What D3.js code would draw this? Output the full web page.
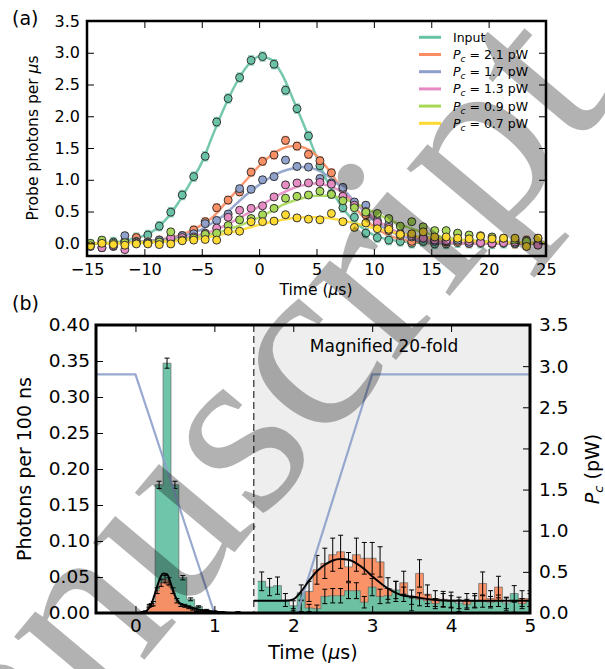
<!DOCTYPE html>
<html>
<head>
<meta charset="utf-8">
<script src="https://cdn.jsdelivr.net/npm/d3@7"></script>
<style>
  body { margin: 0; background: #fff; }
  svg { font-family: "DejaVu Sans", sans-serif; }
</style>
</head>
<body>
<div id="chart"></div>
<script>
// ---------- panel (a) data ----------
const seriesNames = ["Input", "2.1", "1.7", "1.3", "0.9", "0.7"];
const seriesColors = ["#66c2a5", "#fc8d62", "#8da0cb", "#e78ac3", "#a6d854", "#ffd92f"];

const tA = [-14.7,-13.7,-12.7,-11.7,-10.7,-9.7,-8.7,-7.7,-6.7,-5.7,-4.7,-3.7,-2.7,-1.7,-0.7,0.3,1.3,2.3,3.3,4.3,
            5.3,6.3,7.3,8.3,9.3,10.3,11.3,12.3,13.3,14.3,15.3,16.3,17.3,18.3,19.3,20.3,21.3,22.3,23.3,24.3];

const ptsInput = [-0.02,0.03,0.02,0.04,0.09,0.13,0.27,0.49,0.76,1.05,1.37,1.91,2.28,2.61,2.88,2.94,2.82,2.41,2.12,1.69,
                  1.22,0.78,0.56,0.41,0.16,0.09,0.05,0.03,0.00,0.03,-0.01,-0.01,0.01,0.00,0.00,-0.01,0.00,0.00,-0.02,0.00];
const pts21 = [-0.02,0.00,-0.03,0.02,0.09,0.02,0.05,0.08,0.12,0.21,0.34,0.56,0.68,0.81,1.12,1.29,1.39,1.62,1.53,1.40,
               1.30,1.11,0.86,0.60,0.45,0.30,0.20,0.12,0.03,0.10,0.05,0.02,0.03,0.00,0.02,0.00,0.02,-0.01,0.05,0.00];
const pts17 = [-0.05,-0.07,-0.05,0.12,0.03,0.02,0.05,0.06,0.12,0.15,0.31,0.36,0.46,0.86,0.85,1.00,1.05,1.31,1.21,1.20,
               1.02,0.95,0.88,0.65,0.60,0.36,0.30,0.15,0.10,0.08,0.03,0.04,0.05,0.00,0.02,0.00,0.01,0.00,0.02,-0.02];
const pts13 = [-0.03,-0.07,-0.04,-0.10,0.02,0.00,0.02,0.09,0.09,0.10,0.16,0.24,0.41,0.52,0.55,0.59,0.73,0.92,0.95,0.95,
               0.96,0.93,0.74,0.60,0.50,0.33,0.25,0.15,0.12,0.08,0.05,0.04,0.15,0.03,0.01,0.00,0.01,0.02,-0.01,-0.03];
const pts09 = [0.00,0.05,0.00,0.01,0.00,0.00,0.02,0.18,0.05,0.08,0.14,0.16,0.28,0.37,0.39,0.45,0.55,0.71,0.74,0.76,
               0.82,0.77,0.67,0.56,0.49,0.47,0.39,0.27,0.34,0.26,0.20,0.20,0.16,0.13,0.12,0.10,0.08,0.05,0.03,0.08];
const pts07 = [-0.04,0.00,-0.02,-0.03,-0.01,-0.01,-0.02,-0.01,0.04,0.05,0.06,0.05,0.19,0.19,0.34,0.34,0.35,0.45,0.40,0.38,
               0.37,0.47,0.34,0.25,0.32,0.23,0.22,0.14,0.15,0.18,0.10,0.10,0.08,0.07,0.11,0.07,0.08,0.08,-0.05,0.08];
const errA = [0.07, 0.06, 0.05, 0.04, 0.04, 0.03];

const fitT = [-15,-14,-13,-12,-11,-10,-9,-8,-7,-6,-5,-4,-3,-2,-1,0,1,2,3,4,5,6,7,8,9,10,
              11,12,13,14,15,16,17,18,19,20,21,22,23,24,25];
const fitInput = [0,0,0.01,0.03,0.07,0.12, 0.22,0.40,0.65,0.95,1.27,1.72,2.15,2.52,2.80,
                  2.94,2.90,2.66,2.25,1.82,1.36,0.95,0.63,0.40,0.24,
                  0.13,0.07,0.04,0.02,0.01,0,0,0,0,0,0,0,0,0,0,0];
const fit21 = [0,0,0,0.01,0.02,0.03, 0.05,0.08,0.12,0.19,0.29,0.42,0.62,0.82,1.02,
               1.22,1.38,1.49,1.53,1.50,1.38,1.17,0.91,0.65,0.43,
               0.26,0.15,0.08,0.04,0.02,0.01,0,0,0,0,0,0,0,0,0,0];
const fit17 = [0,0,0,0.01,0.02,0.03, 0.05,0.07,0.10,0.15,0.22,0.33,0.45,0.62,0.78,
               0.92,1.04,1.13,1.18,1.20,1.16,1.06,0.91,0.72,0.53,
               0.36,0.23,0.14,0.08,0.04,0.02,0.01,0,0,0,0,0,0,0,0,0];
const fit13 = [0,0,0,0,0.01,0.02, 0.03,0.05,0.07,0.10,0.14,0.20,0.28,0.37,0.47,
               0.58,0.69,0.79,0.87,0.92,0.94,0.91,0.83,0.70,0.55,
               0.40,0.28,0.18,0.11,0.07,0.04,0.02,0.01,0,0,0,0,0,0,0,0];
const fit09 = [0,0,0,0.01,0.01,0.02, 0.03,0.04,0.06,0.08,0.11,0.15,0.20,0.26,0.33,
               0.41,0.50,0.60,0.67,0.72,0.75,0.75,0.72,0.66,0.58,
               0.49,0.40,0.32,0.25,0.19,0.14,0.10,0.07,0.05,0.04,0.03,0.02,0.02,0.01,0.01,0.01];
const fit07 = [0,0,0,0,0.01,0.01, 0.02,0.03,0.04,0.06,0.08,0.11,0.15,0.19,0.24,
               0.29,0.33,0.37,0.40,0.41,0.41,0.40,0.37,0.33,0.29,
               0.24,0.20,0.16,0.13,0.10,0.08,0.06,0.05,0.04,0.03,0.02,0.02,0.01,0.01,0.01,0.01];

const xTicksA = [-15,-10,-5,0,5,10,15,20,25];
const yTicksA = [0,0.5,1,1.5,2,2.5,3,3.5];

// ---------- panel (b) data ----------
const binL = [0.0,0.1,0.2,0.3,0.4,0.5,0.6,0.7,0.8,0.9,1.0,1.1,1.2,1.3,1.4];
const greenL = [0.000,0.001,0.011,0.178,0.347,0.178,0.049,0.019,0.009,0.004,0.002,0.001,0.000,0.001,0.000];
const greenLErr = [0,0.001,0.002,0.005,0.007,0.005,0.003,0.002,0.001,0.001,0.001,0.001,0,0.001,0];

const binOL = [0.125,0.175,0.225,0.275,0.325,0.375,0.425,0.475,0.525,0.575,0.625,0.675,0.725,0.775,0.825,0.875];
const orangeL = [0.002,0.010,0.013,0.031,0.042,0.047,0.044,0.031,0.017,0.011,0.010,0.008,0.005,0.003,0.002,0.001];
const orangeLErr = [0.001,0.002,0.003,0.004,0.005,0.005,0.005,0.004,0.003,0.002,0.002,0.002,0.001,0.001,0.001,0.001];

const binR = [1.6,1.7,1.8,1.9,2.0,2.1,2.2,2.3,2.4,2.5,2.6,2.7,2.8,2.9,3.0,3.1,3.2,3.3,3.4,3.5,
              3.6,3.7,3.8,3.9,4.0,4.1,4.2,4.3,4.4,4.5,4.6,4.7,4.8,4.9,5.0];
const greenR = [0.044,0.036,0.038,0.018,0.010,0.028,0.007,0.006,0.023,0.024,
                0.024,0.031,0.031,0.015,0.036,0.023,0.024,0.032,0.026,0.022,
                0.019,0.017,0.013,0.018,0.016,0.014,0.012,0.016,0.016,0.015,
                0.017,0.014,0.027,0.013,0.018];
const greenRErr = [0.013,0.012,0.012,0.009,0.007,0.011,0.005,0.005,0.010,0.010,
                   0.010,0.011,0.011,0.008,0.012,0.010,0.010,0.012,0.010,0.010,
                   0.009,0.008,0.007,0.009,0.008,0.008,0.007,0.008,0.008,0.008,
                   0.008,0.008,0.011,0.007,0.009];
const orangeR = [0,0,0,0,0.002,0.010,0.030,0.060,0.069,0.081,
                 0.085,0.064,0.081,0.076,0.076,0.071,0.034,0.030,0.042,0.012,
                 0.055,0.026,0.020,0.019,0.018,0.010,0.017,0.017,0.041,0.020,
                 0.036,0.012,0.008,0.020,0.020];
const orangeRErr = [0,0,0,0,0.004,0.008,0.014,0.020,0.021,0.023,
                    0.023,0.020,0.023,0.022,0.022,0.021,0.015,0.014,0.016,0.009,
                    0.019,0.013,0.011,0.011,0.011,0.008,0.010,0.010,0.016,0.011,
                    0.015,0.009,0.007,0.011,0.011];

const fitLT = [0.0,0.1,0.15,0.2,0.25,0.3,0.35,0.4,0.45,0.5,0.55,0.6,0.7,0.8,0.9,1.0,1.1,1.2];
const fitL = [0.000,0.001,0.004,0.012,0.028,0.045,0.055,0.054,0.040,0.024,0.015,0.011,0.008,0.005,0.003,0.002,0.001,0.000];
const fitRT = [1.5,1.9,2.0,2.1,2.2,2.3,2.4,2.5,2.6,2.7,2.8,2.9,3.0,3.1,3.2,3.3,3.4,3.5,3.6,3.8,4.0,4.5,5.0];
const fitR = [0.017,0.017,0.019,0.030,0.045,0.058,0.067,0.073,0.075,0.074,0.069,0.061,0.051,0.042,0.034,0.028,0.024,0.023,0.021,0.018,0.017,0.017,0.017];

const pcT = [-0.5, 0.0, 1.0, 2.05, 3.0, 5.0];
const pcV = [2.9, 2.9, 0.0, 0.0, 2.9, 2.9];

const xTicksB = [0,1,2,3,4,5];
const yTicksB = [0,0.05,0.1,0.15,0.2,0.25,0.3,0.35,0.4];
const yTicksBR = [0,0.5,1,1.5,2,2.5,3,3.5];

// ---------- svg ----------
const svg = d3.select("#chart").append("svg")
  .attr("width", 605).attr("height", 669);

function inwardAxes(g, x, y, xt, yt, yRight, fmtX, fmtY, fmtR, fs, padX, padY) {
  const [x0, x1] = x.range(), [y0, y1] = y.range();
  g.append("g").attr("transform", `translate(0,${y0})`)
    .call(d3.axisBottom(x).tickValues(xt).tickSize(-7).tickPadding(padX).tickFormat(fmtX));
  g.append("g").attr("transform", `translate(0,${y1})`)
    .call(d3.axisTop(x).tickValues(xt).tickSize(-7).tickFormat(""));
  g.append("g").attr("transform", `translate(${x0},0)`)
    .call(d3.axisLeft(y).tickValues(yt).tickSize(-7).tickPadding(padY).tickFormat(fmtY));
  const r = yRight || y;
  g.append("g").attr("transform", `translate(${x1},0)`)
    .call(d3.axisRight(r).tickValues(yRight ? yTicksBR : yt).tickSize(-7).tickPadding(9)
      .tickFormat(fmtR || ""));
  g.selectAll(".domain").remove();
  g.selectAll(".tick line").attr("stroke", "#000").attr("stroke-width", 1);
  g.selectAll(".tick text").attr("font-size", fs).attr("fill", "#000")
    .attr("font-family", "DejaVu Sans, sans-serif");
}

// ===== panel (a) =====
const xa = d3.scaleLinear().domain([-15, 25]).range([87, 546]);
const ya = d3.scaleLinear().domain([-0.2, 3.5]).range([256, 21]);
const ga = svg.append("g");

ga.append("clipPath").attr("id", "clipA").append("rect")
  .attr("x", 87).attr("y", 21).attr("width", 459).attr("height", 235);

const ptsList = [ptsInput, pts21, pts17, pts13, pts09, pts07];
const fitList = [fitInput, fit21, fit17, fit13, fit09, fit07];

const lineA = d3.line().x(d => xa(d[0])).y(d => ya(d[1])).curve(d3.curveMonotoneX);
const plotA = ga.append("g").attr("clip-path", "url(#clipA)");

fitList.forEach((f, k) => {
  plotA.append("path")
    .datum(fitT.map((t, i) => [t, f[i]]))
    .attr("d", lineA).attr("fill", "none")
    .attr("stroke", seriesColors[k]).attr("stroke-width", 2.5).attr("stroke-opacity", 0.9);
});

ptsList.forEach((p, k) => {
  const g = plotA.append("g");
  const data = tA.map((t, i) => [t, p[i]]);
  const e = errA[k];
  g.selectAll("line.eb").data(data).enter().append("line")
    .attr("x1", d => xa(d[0])).attr("x2", d => xa(d[0]))
    .attr("y1", d => ya(d[1] - e)).attr("y2", d => ya(d[1] + e))
    .attr("stroke", seriesColors[k]).attr("stroke-width", 2).attr("stroke-opacity", 0.8);
  [-1, 1].forEach(s => {
    g.selectAll(null).data(data).enter().append("line")
      .attr("x1", d => xa(d[0]) - 3).attr("x2", d => xa(d[0]) + 3)
      .attr("y1", d => ya(d[1] + s * e)).attr("y2", d => ya(d[1] + s * e))
      .attr("stroke", seriesColors[k]).attr("stroke-width", 1.5).attr("stroke-opacity", 0.8);
  });
  g.selectAll("circle").data(data).enter().append("circle")
    .attr("cx", d => xa(d[0])).attr("cy", d => ya(d[1])).attr("r", 4)
    .attr("fill", seriesColors[k]).attr("fill-opacity", 0.95)
    .attr("stroke", "#333").attr("stroke-width", 1);
});

inwardAxes(ga, xa, ya, xTicksA, yTicksA, null, d3.format("d"), d3.format(".1f"), null, 16, 8, 7);

ga.append("rect").attr("x", 87).attr("y", 21).attr("width", 459).attr("height", 235)
  .attr("fill", "none").attr("stroke", "#000").attr("stroke-width", 2.5);

// legend
const leg = ga.append("g");
seriesNames.forEach((n, k) => {
  const yy = 37.3 + k * 17.2;
  leg.append("line").attr("x1", 419).attr("x2", 441).attr("y1", yy).attr("y2", yy)
    .attr("stroke", seriesColors[k]).attr("stroke-width", 3);
  const t = leg.append("text").attr("x", 453).attr("y", yy).attr("dy", "0.36em")
    .attr("font-size", 12.5).attr("fill", "#000");
  if (k === 0) {
    t.text(n);
  } else {
    t.append("tspan").attr("font-style", "italic").text("P");
    t.append("tspan").attr("font-style", "italic").attr("font-size", 9).attr("dy", 3).text("c");
    t.append("tspan").attr("dy", -3).text(" = " + n + " pW");
  }
});

// labels (a)
svg.append("text").attr("x", 12).attr("y", 25).attr("font-size", 19).text("(a)");
const xlA = svg.append("text").attr("x", 316).attr("y", 295).attr("text-anchor", "middle").attr("font-size", 15.5);
xlA.append("tspan").text("Time (");
xlA.append("tspan").attr("font-style", "italic").text("μ");
xlA.append("tspan").text("s)");
const ylA = svg.append("text").attr("transform", "translate(38,138) rotate(-90)")
  .attr("text-anchor", "middle").attr("font-size", 15.5);
ylA.append("tspan").text("Probe photons per ");
ylA.append("tspan").attr("font-style", "italic").text("μ");
ylA.append("tspan").text("s");

// ===== panel (b) =====
const xb = d3.scaleLinear().domain([-0.5, 5]).range([96, 530]);
const yb = d3.scaleLinear().domain([0, 0.4]).range([613, 325]);
const ybR = d3.scaleLinear().domain([0, 3.5]).range([613, 325]);
const gb = svg.append("g");

gb.append("clipPath").attr("id", "clipB").append("rect")
  .attr("x", 96).attr("y", 325).attr("width", 434).attr("height", 288);

const plotB = gb.append("g").attr("clip-path", "url(#clipB)");

plotB.append("rect").attr("x", xb(1.5)).attr("y", 325)
  .attr("width", xb(5) - xb(1.5)).attr("height", 288).attr("fill", "#edeeed");

function stepHist(centers, vals, w, fill) {
  const pts = centers.map((c, i) => [c - w / 2, vals[i]]);
  pts.push([centers[centers.length - 1] + w / 2, vals[vals.length - 1]]);
  const area = d3.area().x(d => xb(d[0])).y0(yb(0)).y1(d => yb(d[1])).curve(d3.curveStepAfter);
  const line = d3.line().x(d => xb(d[0])).y(d => yb(d[1])).curve(d3.curveStepAfter);
  plotB.append("path").datum(pts).attr("d", area).attr("fill", fill).attr("fill-opacity", 0.95);
  plotB.append("path").datum(pts).attr("d", line).attr("fill", "none")
    .attr("stroke", "#666").attr("stroke-opacity", 0.7).attr("stroke-width", 1);
}

function errBars(centers, vals, errs) {
  const data = centers.map((c, i) => [c, vals[i], errs[i]]).filter(d => d[1] > 0 && d[2] > 0);
  const g = plotB.append("g").attr("stroke", "#000").attr("stroke-width", 1);
  g.selectAll(null).data(data).enter().append("line")
    .attr("x1", d => xb(d[0])).attr("x2", d => xb(d[0]))
    .attr("y1", d => yb(d[1] - d[2])).attr("y2", d => yb(d[1] + d[2]));
  [-1, 1].forEach(s => {
    g.selectAll(null).data(data).enter().append("line")
      .attr("x1", d => xb(d[0]) - 2.5).attr("x2", d => xb(d[0]) + 2.5)
      .attr("y1", d => yb(d[1] + s * d[2])).attr("y2", d => yb(d[1] + s * d[2]));
  });
}

// left (unmagnified) histograms
stepHist(binL, greenL, 0.1, "#66c2a5");
stepHist(binOL, orangeL, 0.05, "#fc8d62");
// right (magnified) histograms
stepHist(binR, orangeR, 0.1, "#fc8d62");
stepHist(binR, greenR, 0.1, "#66c2a5");

errBars(binL, greenL, greenLErr);
errBars(binOL, orangeL, orangeLErr);
errBars(binR, orangeR, orangeRErr);
errBars(binR, greenR, greenRErr);

// control power
plotB.append("path")
  .datum(pcT.map((t, i) => [t, pcV[i]]))
  .attr("d", d3.line().x(d => xb(d[0])).y(d => ybR(d[1])))
  .attr("fill", "none").attr("stroke", "#8da0cb").attr("stroke-width", 2.2).attr("stroke-opacity", 0.9);

// fits
const lineB = d3.line().x(d => xb(d[0])).y(d => yb(d[1])).curve(d3.curveMonotoneX);
plotB.append("path").datum(fitLT.map((t, i) => [t, fitL[i]])).attr("d", lineB)
  .attr("fill", "none").attr("stroke", "#000").attr("stroke-width", 2);
plotB.append("path").datum(fitRT.map((t, i) => [t, fitR[i]])).attr("d", lineB)
  .attr("fill", "none").attr("stroke", "#000").attr("stroke-width", 2);

// dashed divider
plotB.append("line").attr("x1", xb(1.5)).attr("x2", xb(1.5)).attr("y1", 325).attr("y2", 613)
  .attr("stroke", "#000").attr("stroke-width", 1).attr("stroke-dasharray", "7,4");

inwardAxes(gb, xb, yb, xTicksB, yTicksB, ybR, d3.format("d"), d3.format(".2f"), d3.format(".1f"), 18.5, 6, 6);

gb.append("rect").attr("x", 96).attr("y", 325).attr("width", 434).attr("height", 288)
  .attr("fill", "none").attr("stroke", "#000").attr("stroke-width", 3);

gb.append("text").attr("x", 384).attr("y", 352).attr("text-anchor", "middle")
  .attr("font-size", 17).text("Magnified 20-fold");

// labels (b)
svg.append("text").attr("x", 12).attr("y", 310).attr("font-size", 19).text("(b)");
const xlB = svg.append("text").attr("x", 313).attr("y", 659).attr("text-anchor", "middle").attr("font-size", 19);
xlB.append("tspan").text("Time (");
xlB.append("tspan").attr("font-style", "italic").text("μ");
xlB.append("tspan").text("s)");
svg.append("text").attr("transform", "translate(31,469) rotate(-90)")
  .attr("text-anchor", "middle").attr("font-size", 19).text("Photons per 100 ns");
const ylR = svg.append("text").attr("transform", "translate(599,469) rotate(-90)")
  .attr("text-anchor", "middle").attr("font-size", 19);
ylR.append("tspan").attr("font-style", "italic").text("P");
ylR.append("tspan").attr("font-style", "italic").attr("font-size", 13).attr("dy", 4).text("c");
ylR.append("tspan").attr("dy", -4).text(" (pW)");

// watermark
svg.append("text")
  .attr("transform", "translate(250,534) rotate(-50)")
  .attr("text-anchor", "middle")
  .attr("font-family", "Liberation Serif, serif")
  .attr("font-size", 250)
  .attr("fill", "#000").attr("fill-opacity", 0.3)
  .text("Manuscript");
</script>
</body>
</html>
